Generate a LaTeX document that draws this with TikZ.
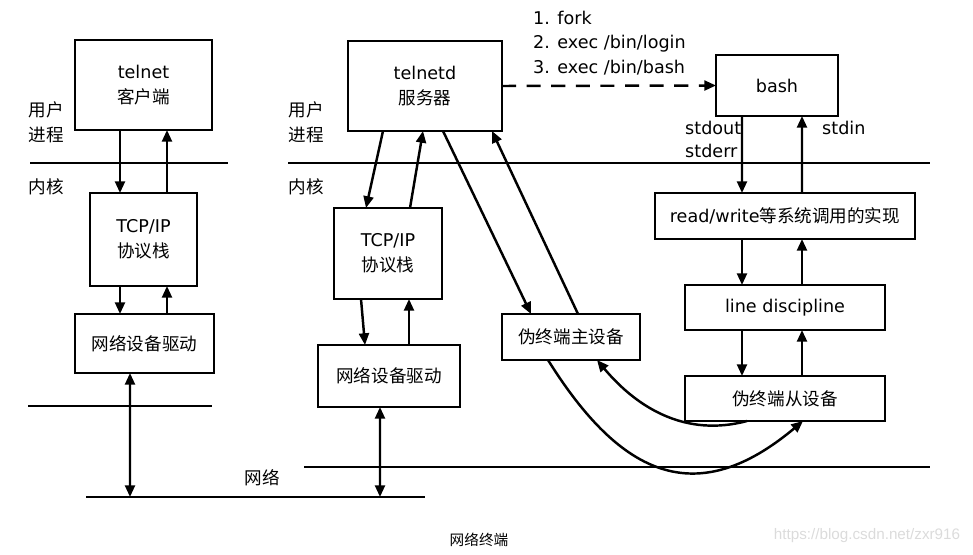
\documentclass[tikz,border=0pt]{standalone}
\usepackage{fontspec}
\setmainfont{DejaVu Sans}
\newfontfamily\cjk{Noto Sans CJK SC}
\newfontfamily\wmfont{Liberation Sans}
\usetikzlibrary{arrows.meta}
\tikzset{
  box/.style={draw, line width=2.2pt, inner sep=0pt, outer sep=0pt, align=center, font=\fontsize{15}{21}\selectfont},
  conn/.style={line width=2.1pt},
  layer/.style={line width=2.1pt},
  lbl/.style={inner sep=0pt, align=left, font=\fontsize{15}{21}\selectfont},
  zh/.style={inner sep=0pt, align=center, font=\cjk\fontsize{15}{21}\selectfont}
}
\begin{document}
\begin{tikzpicture}[x=0.03cm, y=0.03cm, >={Triangle[length=10pt,width=8.5pt]}]
        \useasboundingbox (0,0) rectangle (973,554);

        \node (cli) at (143.5,469) [box, minimum width=4.11cm, minimum height=2.7cm] {telnet\\{\cjk 客户端}};
        \node (tcpL) at (143.5,314.5) [box, minimum width=3.21cm, minimum height=2.79cm] {TCP/IP\\{\cjk 协议栈}};
        \node (drvL) at (144.5,210.5) [box, minimum width=4.17cm, minimum height=1.77cm] {\cjk 网络设备驱动};

        \node (srv) at (425,468) [box, minimum width=4.62cm, minimum height=2.7cm] {telnetd\\{\cjk 服务器}};
        \node (tcpM) at (388,300.5) [box, minimum width=3.24cm, minimum height=2.73cm] {TCP/IP\\{\cjk 协议栈}};
        \node (drvM) at (389,178) [box, minimum width=4.26cm, minimum height=1.86cm] {\cjk 网络设备驱动};
        \node (ptm) at (571,217) [box, minimum width=4.14cm, minimum height=1.38cm] {\cjk 伪终端主设备};

        \node (bash) at (777,468.5) [box, minimum width=3.66cm, minimum height=1.83cm] {bash};
        \node (rw) at (785,338) [box, minimum width=7.8cm, minimum height=1.38cm] {read/write{\cjk 等系统调用的实现}};
        \node (ld) at (785,246.5) [box, minimum width=6cm, minimum height=1.35cm] {line discipline};
        \node (pts) at (785,155.5) [box, minimum width=6cm, minimum height=1.35cm] {\cjk 伪终端从设备};

        \draw[layer] (30,391) -- (228,391);
        \draw[layer] (288,391) -- (930,391);
        \draw[layer] (28,148) -- (212,148);
        \draw[layer] (304,87) -- (930,87);
        \coordinate (netW) at (86,57);
        \coordinate (netE) at (425,57);
        \coordinate (netL) at (130,57);
        \coordinate (netM) at (380,57);
        \draw[layer] (netW) -- (netE);

        \node (uL) at (46,432) [zh] {用户\\进程};
        \node (kL) at (46,367) [zh] {内核};
        \node (uM) at (306,432) [zh] {用户\\进程};
        \node (kM) at (306,367) [zh] {内核};
        \node (net) at (262,76) [zh] {网络};
        \node (title) at (479,14) [zh, font=\cjk\fontsize{12.5}{15}\selectfont] {网络终端};
        \node (steps) at (533,511) [lbl, anchor=west] {1. fork\\2. exec /bin/login\\3. exec /bin/bash};
        \node (sout) at (685,414.5) [lbl, anchor=west, font=\fontsize{15}{19.5}\selectfont] {stdout\\stderr};
        \node (sin) at (822,426) [lbl, anchor=west] {stdin};
        \node (wm) at (867,18) [inner sep=0pt, text=black!14, font=\wmfont\fontsize{13}{15}\selectfont] {https://blog.csdn.net/zxr916};

        \draw[conn, ->] ([xshift=-0.705cm]cli.south) -- ([xshift=-0.705cm]tcpL.north);
        \draw[conn, ->] ([xshift=0.705cm]tcpL.north) -- ([xshift=0.705cm]cli.south);
        \draw[conn, ->] ([xshift=-0.705cm]tcpL.south) -- ([xshift=-0.735cm]drvL.north);
        \draw[conn, ->] ([xshift=0.675cm]drvL.north) -- ([xshift=0.705cm]tcpL.south);
        \draw[conn, <->] ([xshift=-0.435cm]drvL.south) -- (netL);

        \draw[conn, ->] ([xshift=-1.26cm]srv.south) -- ([xshift=-0.66cm]tcpM.north);
        \draw[conn, ->] ([xshift=0.66cm]tcpM.north) -- ([xshift=-0.06cm]srv.south);
        \draw[conn, ->] ([xshift=-0.81cm]tcpM.south) -- ([xshift=-0.72cm]drvM.north);
        \draw[conn, ->] ([xshift=0.6cm]drvM.north) -- ([xshift=0.63cm]tcpM.south);
        \draw[conn, <->] ([xshift=-0.27cm]drvM.south) -- (netM);
        \draw[conn, ->] ([xshift=0.54cm]srv.south) -- ([xshift=-1.2cm]ptm.north);
        \draw[conn, ->] ([xshift=0.21cm]ptm.north) -- ([xshift=2.01cm]srv.south);
        \draw[conn, ->, dash pattern=on 12pt off 9pt] (srv.east) -- (bash.west);

        \draw[conn, ->] ([xshift=-1.05cm]bash.south) -- ([xshift=-1.29cm]rw.north);
        \draw[conn, ->] ([xshift=0.51cm]rw.north) -- ([xshift=0.75cm]bash.south);
        \draw[conn, ->] ([xshift=-1.29cm]rw.south) -- ([xshift=-1.29cm]ld.north);
        \draw[conn, ->] ([xshift=0.51cm]ld.north) -- ([xshift=0.51cm]rw.south);
        \draw[conn, ->] ([xshift=-1.29cm]ld.south) -- ([xshift=-1.29cm]pts.north);
        \draw[conn, ->] ([xshift=0.51cm]pts.north) -- ([xshift=0.51cm]ld.south);

        \draw[conn, ->] ([xshift=-1.14cm]pts.south) to[out=195, in=-50] ([xshift=0.78cm]ptm.south);
        \draw[conn, ->] ([xshift=-0.69cm]ptm.south) to[out=-58, in=-140, looseness=1.35] ([xshift=0.54cm]pts.south);
        \end{tikzpicture}
\end{document}
